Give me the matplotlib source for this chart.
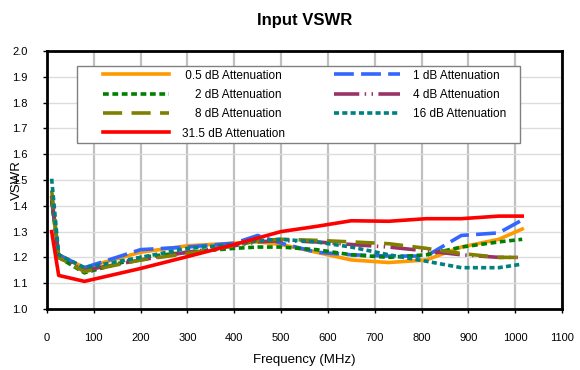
import numpy as np
import matplotlib
matplotlib.use('Agg')
import matplotlib.pyplot as plt
from matplotlib.patches import Rectangle

plt.rcParams['font.family'] = ['Liberation Sans', 'DejaVu Sans']

# Frequency points (MHz)
freq = [10, 25, 80, 200, 300, 400, 450, 500, 575, 650, 730, 810, 885, 965, 1015]

# VSWR per attenuation state
att_0p5 = [1.43, 1.21, 1.16, 1.22, 1.245, 1.255, 1.26, 1.25, 1.22, 1.19, 1.18, 1.19, 1.24, 1.27, 1.31]
att_1 = [1.42, 1.21, 1.16, 1.23, 1.24, 1.255, 1.285, 1.255, 1.22, 1.21, 1.205, 1.205, 1.285, 1.295, 1.345]
att_2 = [1.42, 1.20, 1.14, 1.20, 1.22, 1.235, 1.24, 1.24, 1.23, 1.21, 1.20, 1.21, 1.24, 1.26, 1.27]
att_4 = [1.44, 1.20, 1.15, 1.19, 1.22, 1.245, 1.26, 1.265, 1.26, 1.25, 1.24, 1.225, 1.21, 1.20, 1.20]
att_8 = [1.46, 1.20, 1.145, 1.19, 1.215, 1.245, 1.265, 1.27, 1.266, 1.26, 1.253, 1.235, 1.215, 1.20, 1.20]
att_16 = [1.505, 1.21, 1.16, 1.20, 1.235, 1.25, 1.265, 1.27, 1.26, 1.24, 1.21, 1.185, 1.16, 1.16, 1.174]
att_31p5 = [1.30, 1.13, 1.107, 1.157, 1.203, 1.25, 1.275, 1.30, 1.32, 1.342, 1.34, 1.35, 1.35, 1.36, 1.36]

fig = plt.figure(figsize=(5.8, 3.7), dpi=100)
ax = fig.add_axes([0.081, 0.165, 0.888, 0.697])

lw = 2.6
l05, = ax.plot(freq, att_0p5, color='#ff9900', lw=lw, label=' 0.5 dB Attenuation')
l1, = ax.plot(freq, att_1, color='#3366ff', lw=lw, ls=(0, (5.5, 2)), label='1 dB Attenuation')
l2, = ax.plot(freq, att_2, color='#008000', lw=lw, ls=(0, (1.6, 1)), label='    2 dB Attenuation')
l4, = ax.plot(freq, att_4, color='#993366', lw=lw, ls=(0, (7, 1.5, 0.4, 1.5, 0.4, 1.5)), label='4 dB Attenuation')
l8, = ax.plot(freq, att_8, color='#808000', lw=lw, ls=(0, (5.3, 2.6)), label='    8 dB Attenuation')
l16, = ax.plot(freq, att_16, color='#008080', lw=lw, ls=(0, (1.4, 0.9)), label='16 dB Attenuation')
l31, = ax.plot(freq, att_31p5, color='#ff0000', lw=lw, label='31.5 dB Attenuation')

ax.set_xlim(0, 1100)
ax.set_ylim(1.0, 2.0)
ax.set_xticks(np.arange(0, 1101, 100))
ax.set_yticks(np.arange(1.0, 2.01, 0.1))
ax.set_yticklabels([f'{v:.1f}' for v in np.arange(1.0, 2.01, 0.1)])

ax.xaxis.grid(True, color='#c0c0c0', lw=1.6)
ax.yaxis.grid(True, color='#dcdcdc', lw=1.0)
ax.set_axisbelow(True)

for s in ax.spines.values():
    s.set_color('black')
    s.set_linewidth(2.0)

ax.tick_params(axis='x', direction='out', length=3, width=1, pad=14, labelsize=8)
ax.tick_params(axis='y', direction='out', length=3, width=1, pad=11, labelsize=8)

ax.set_xlabel('Frequency (MHz)', fontsize=9.5, labelpad=8)
ax.set_ylabel('VSWR', fontsize=9.5, labelpad=-8)
ax.set_title('Input VSWR', fontsize=12, fontweight='bold', pad=19)

# legend box (Excel style: wide white frame, gray border)
ax.add_patch(Rectangle((0.058, 0.643), 0.860, 0.299, transform=ax.transAxes,
                       facecolor='white', edgecolor='#808080', lw=1.0, zorder=4))

handles = [l05, l2, l8, l31, l1, l4, l16]
leg = ax.legend(handles=handles, ncol=2, loc='upper left',
                bbox_to_anchor=(0.109, 0.928), fontsize=8.5, frameon=False,
                handlelength=5.6, columnspacing=4.1, labelspacing=0.62,
                borderpad=0, borderaxespad=0, handletextpad=1.1)
leg.set_zorder(5)

fig.savefig('out.png', dpi=100)
